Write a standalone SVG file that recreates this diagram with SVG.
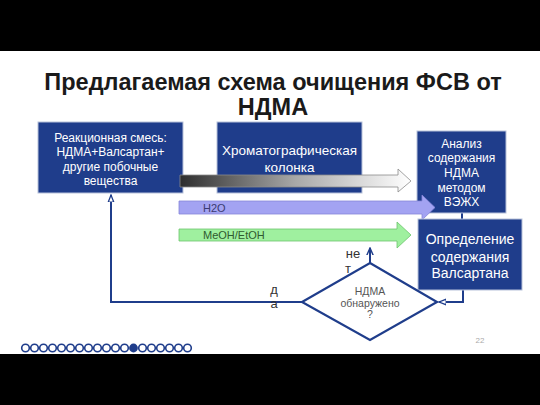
<svg xmlns="http://www.w3.org/2000/svg" width="540" height="405" viewBox="0 0 540 405">
<style>
.box{fill:#1f3d8b;stroke:#b8c2da;stroke-width:1}
.wt{fill:#ffffff;font-family:"Liberation Sans",Arial,sans-serif;text-anchor:middle}
.ln{fill:none;stroke:#1f3d8b;stroke-width:2}
.lbl{fill:#333333;font-family:"Liberation Sans",Arial,sans-serif;font-size:13px;text-anchor:middle}
.dot{fill:#ffffff;stroke:#1f3d8b;stroke-width:1.6}
</style>
<defs>
<linearGradient id="grad" x1="0" y1="0" x2="1" y2="0">
<stop offset="0" stop-color="#2e2e2e"/>
<stop offset="0.5" stop-color="#a8a8a8"/>
<stop offset="1" stop-color="#ffffff"/>
</linearGradient>
<marker id="arr" viewBox="0 0 10 10" refX="9" refY="5" markerUnits="userSpaceOnUse" markerWidth="8" markerHeight="8" orient="auto">
<path d="M0,1.5 L9,5 L0,8.5 Z" fill="#ffffff" stroke="#1f3d8b" stroke-width="1.6"/>
</marker>
<marker id="open" viewBox="0 0 10 10" refX="9" refY="5" markerUnits="userSpaceOnUse" markerWidth="8" markerHeight="8" orient="auto">
<path d="M0,1 L9,5 L0,9" fill="none" stroke="#1f3d8b" stroke-width="1.8"/>
</marker>
</defs>
<rect x="0" y="0" width="540" height="405" fill="#ffffff"/>
<rect x="0" y="0" width="540" height="51" fill="#000000"/>
<rect x="0" y="354" width="540" height="51" fill="#000000"/>
<g id="title" font-family="Liberation Sans,Arial,sans-serif" font-weight="bold" font-size="23.5" fill="#1a1a1a" text-anchor="middle">
<text x="273" y="90">Предлагаемая схема очищения ФСВ от</text>
<text x="273" y="115">НДМА</text>
</g>
<g id="connectors">
<polyline class="ln" points="463,290 463,302 439,302" marker-end="url(#arr)"/>
<polyline class="ln" points="302,302 111,302 111,195" marker-end="url(#arr)"/>
<line class="ln" x1="370" y1="263" x2="370" y2="248" marker-end="url(#open)"/>
<line class="ln" x1="462" y1="213" x2="462" y2="219"/>
</g>
<g id="n1"><rect class="box" x="38" y="122" width="145" height="71"/>
<text class="wt" font-size="12"><tspan x="110.5" y="142">Реакционная смесь:</tspan><tspan x="110.5" y="156">НДМА+Валсартан+</tspan><tspan x="110.5" y="171">другие побочные</tspan><tspan x="110.5" y="185">вещества</tspan></text></g>
<g id="n2"><rect class="box" x="217" y="122" width="145" height="71"/>
<text class="wt" font-size="13.5"><tspan x="289.5" y="155">Хроматографическая</tspan><tspan x="289.5" y="172">колонка</tspan></text></g>
<g id="gradarrow"><path d="M180,175 L398,175 L398,169 L411,181 L398,192 L398,187 L180,187 Z" fill="url(#grad)" stroke="#8a8a8a" stroke-width="0.8"/></g>
<g id="n3"><rect class="box" x="417" y="131" width="89" height="82"/>
<text class="wt" font-size="12"><tspan x="461.5" y="148">Анализ</tspan><tspan x="461.5" y="162">содержания</tspan><tspan x="461.5" y="177">НДМА</tspan><tspan x="461.5" y="192">методом</tspan><tspan x="461.5" y="206">ВЭЖХ</tspan></text></g>
<g id="h2o"><path d="M179,201 L422,201 L422,195 L435,207.5 L422,220 L422,214 L179,214 Z" fill="#a3a3f2" stroke="#8585d8" stroke-width="0.8"/>
<text x="203" y="211.5" font-family="Liberation Sans,Arial,sans-serif" font-size="11" fill="#3b3b70">H2O</text></g>
<g id="meoh"><path d="M179,229 L397,229 L397,222 L411,235 L397,248 L397,241 L179,241 Z" fill="#9ff09f" stroke="#6cc46c" stroke-width="0.8"/>
<text x="203" y="239" font-family="Liberation Sans,Arial,sans-serif" font-size="11" fill="#2f5a2f">MeOH/EtOH</text></g>
<g id="n4"><rect class="box" x="418" y="219" width="104" height="71"/>
<text class="wt" font-size="14"><tspan x="470" y="244">Определение</tspan><tspan x="470" y="262">содержания</tspan><tspan x="470" y="278">Валсартана</tspan></text></g>
<g id="decision"><polygon points="370,263 437,302 370,340 302,302" fill="#ffffff" stroke="#1f3d8b" stroke-width="2.2"/>
<text font-family="Liberation Sans,Arial,sans-serif" font-size="10.5" fill="#555555" text-anchor="middle"><tspan x="370" y="295">НДМА</tspan><tspan x="370" y="307">обнаружено</tspan><tspan x="370" y="318">?</tspan></text></g>
<g id="labels">
<text class="lbl" x="353" y="258">не</text>
<text class="lbl" x="348" y="273">т</text>
<text class="lbl" x="274" y="294">д</text>
<text class="lbl" x="274" y="308">а</text>
</g>
<g id="dots">
<circle class="dot" cx="25.5" cy="348" r="3.8"/><circle class="dot" cx="34.5" cy="348" r="3.8"/><circle class="dot" cx="43.5" cy="348" r="3.8"/><circle class="dot" cx="52.5" cy="348" r="3.8"/><circle class="dot" cx="61.5" cy="348" r="3.8"/><circle class="dot" cx="70.5" cy="348" r="3.8"/><circle class="dot" cx="79.5" cy="348" r="3.8"/><circle class="dot" cx="88.5" cy="348" r="3.8"/><circle class="dot" cx="97.5" cy="348" r="3.8"/><circle class="dot" cx="106.5" cy="348" r="3.8"/><circle class="dot" cx="115.5" cy="348" r="3.8"/><circle class="dot" cx="124.5" cy="348" r="3.8"/><circle cx="133.5" cy="348" r="4.4" fill="#1f3d8b"/><circle class="dot" cx="142.5" cy="348" r="3.8"/><circle class="dot" cx="151.5" cy="348" r="3.8"/><circle class="dot" cx="160.5" cy="348" r="3.8"/><circle class="dot" cx="169.5" cy="348" r="3.8"/><circle class="dot" cx="178.5" cy="348" r="3.8"/><circle class="dot" cx="187.5" cy="348" r="3.8"/>
</g>
<text x="480" y="343" font-family="Liberation Sans,Arial,sans-serif" font-size="8" fill="#aaaaaa" text-anchor="middle">22</text>
</svg>
